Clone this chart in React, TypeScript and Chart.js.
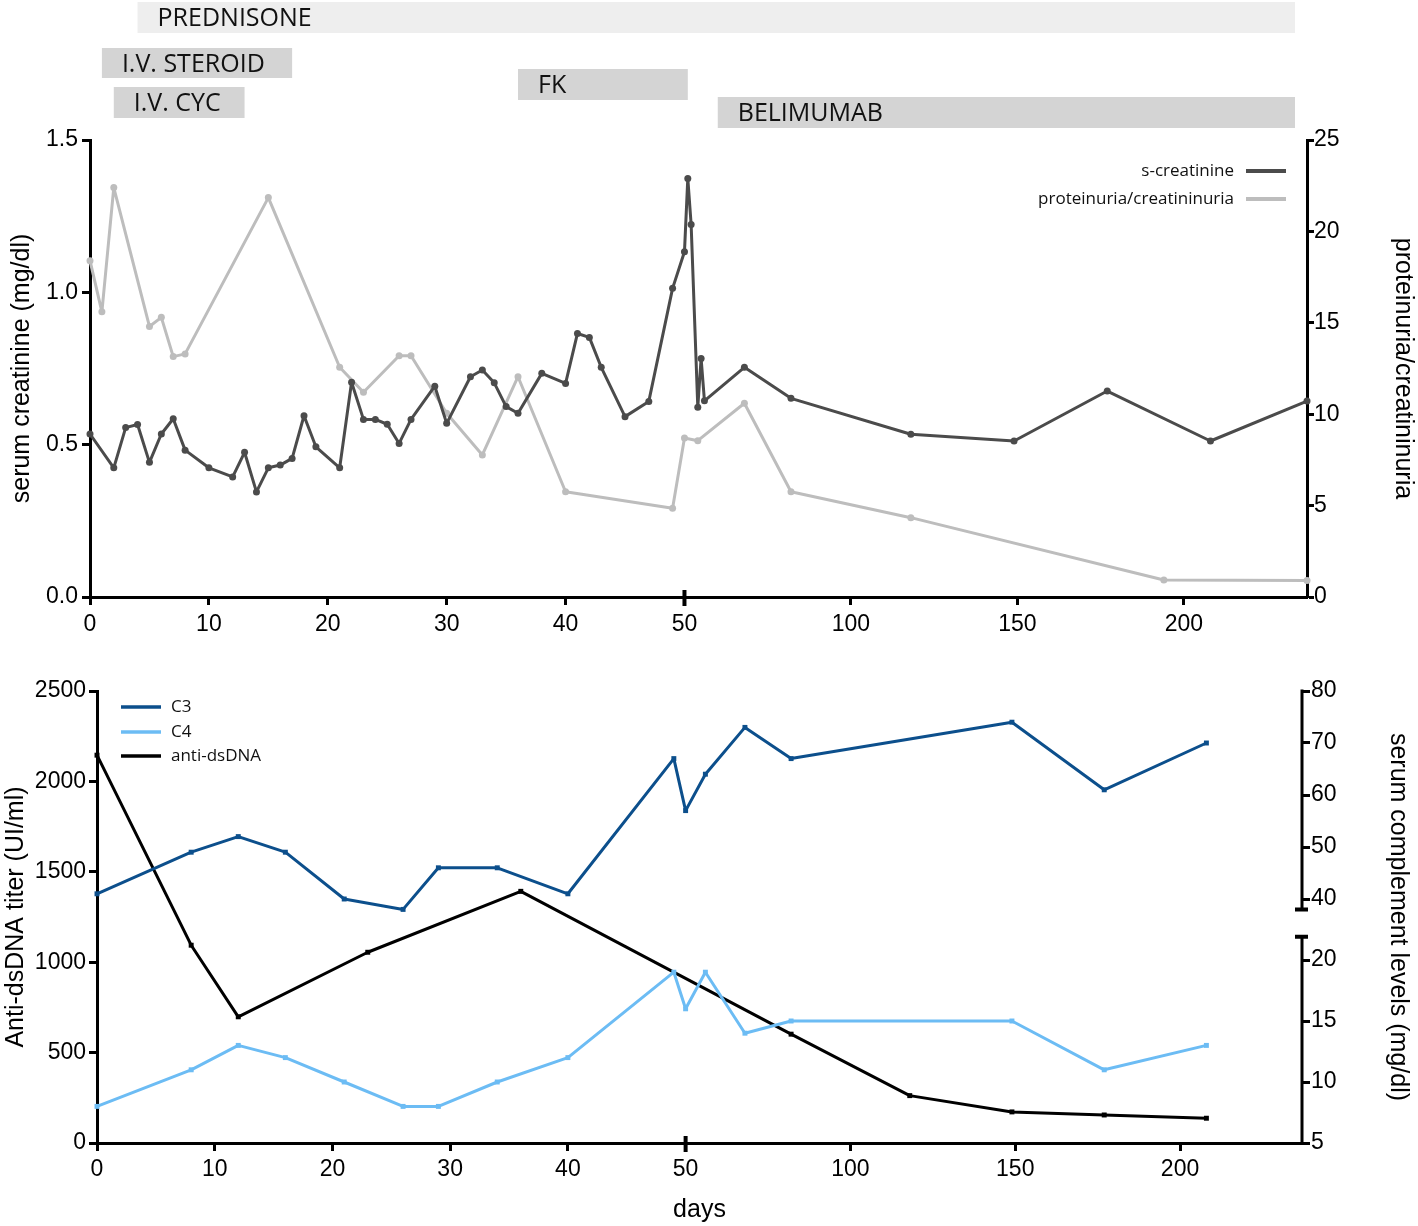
import React, { useEffect, useRef } from "react";
import { Chart, registerables } from "chart.js";
Chart.register(...registerables);

// ---------------- data ----------------
const xTickDays = [0, 10, 20, 30, 40, 50, 100, 150, 200];
const xTickLabels = ["0", "10", "20", "30", "40", "50", "100", "150", "200"];

const creatinineDays = [0, 2, 3, 4, 5, 6, 7, 8, 10, 12, 13, 14, 15, 16, 17, 18, 19, 21, 22, 23, 24, 25, 26, 27, 29, 30, 32, 33, 34, 35, 36, 38, 40, 41, 42, 43, 45, 47, 49, 50, 51, 52, 54, 55, 56, 68, 82, 118, 149, 177, 208, 237];
const creatinineValues = [0.535, 0.424, 0.556, 0.566, 0.442, 0.535, 0.585, 0.482, 0.424, 0.394, 0.475, 0.345, 0.424, 0.433, 0.455, 0.595, 0.493, 0.424, 0.705, 0.583, 0.583, 0.567, 0.504, 0.583, 0.692, 0.57, 0.723, 0.745, 0.703, 0.625, 0.603, 0.734, 0.701, 0.865, 0.852, 0.754, 0.592, 0.642, 1.013, 1.133, 1.374, 1.223, 0.623, 0.783, 0.644, 0.754, 0.652, 0.534, 0.512, 0.676, 0.512, 0.643];

const proteinuriaDays = [0, 1, 2, 5, 6, 7, 8, 15, 21, 23, 26, 27, 30, 33, 36, 40, 49, 50, 54, 68, 82, 118, 194, 237];
const proteinuriaValues = [18.4, 15.6, 22.4, 14.8, 15.3, 13.15, 13.3, 21.85, 12.57, 11.2, 13.2, 13.2, 10.05, 7.77, 12.05, 5.76, 4.85, 8.7, 8.55, 10.6, 5.76, 4.34, 0.93, 0.9];

const creatinineTicks = [0, 0.5, 1.0, 1.5];
const proteinuriaTicks = [0, 5, 10, 15, 20, 25];

const treatmentNames = ["PREDNISONE", "I.V. STEROID", "I.V. CYC", "FK", "BELIMUMAB"];
const treatmentStart = [4, 1, 2, 36, 60];
const treatmentEnd = [233.4, 17, 13, 51, 233.4];

const dnaDays = [0, 8, 12, 23, 36, 82, 118, 149, 177, 208];
const dnaValues = [2145, 1094, 698, 1055, 1392, 602, 262, 172, 155, 137];

const complementDays = [0, 8, 12, 16, 21, 26, 29, 34, 40, 49, 50, 56, 68, 82, 149, 177, 208];
const c3Values = [41, 49, 52, 49, 40, 38, 46, 46, 41, 67, 57, 64, 73, 67, 74, 61, 70];
const c4Values = [8, 11, 13, 12, 10, 8, 8, 10, 12, 19, 16, 19, 14, 15, 15, 11, 13];

const dnaTicks = [0, 500, 1000, 1500, 2000, 2500];
const complementTicks = [5, 10, 15, 20, 40, 50, 60, 70, 80];

// ---------------- layout / style ----------------
const W = 1418;
const TOP_H = 650;
const BOT_H = 576;
const SPLIT = 0.28; // compression of days beyond 50
const X_MAX_DAY = 237;
const tx = (d: number) => (d <= 50 ? d : 50 + (d - 50) * SPLIT);
// broken right axis of lower chart (virtual units = pixels from bottom)
const tc = (v: number) => (v < 30 ? (v - 5) * 12.2 : 244 + (v - 40) * 5.2);
const UPPER_END = 38;
const LOWER_END = 21.9;

const DARK = "#4b4b4b";
const LIGHT = "#bdbdbd";
const C3_COL = "#0c4f8c";
const C4_COL = "#6cbcf4";
const DNA_COL = "#000000";

const TICK_FONT = { family: '"Liberation Sans", Arial, sans-serif', size: 23 };
const TITLE_FONT = { family: '"Liberation Sans", Arial, sans-serif', size: 25 };
const LABEL_FAMILY = '"Open Sans", "Liberation Sans", sans-serif';

const TREAT_ROWS: [number, number][] = [
  [2, 31],
  [48, 30],
  [87, 31],
  [69, 31],
  [97, 31],
];
const TREAT_FILL = ["#eeeeee", "#d4d4d4", "#d4d4d4", "#d4d4d4", "#d4d4d4"];

const axisGrid = {
  drawOnChartArea: false,
  drawTicks: true,
  tickLength: 8,
  tickWidth: 3,
  tickColor: "#000",
};
const axisBorder = { display: true, width: 3, color: "#000" };

function xScale(height: number, pad: number, title?: string) {
  return {
    type: "linear",
    min: 0,
    max: tx(X_MAX_DAY),
    afterBuildTicks: (s: any) => {
      s.ticks = xTickDays.map((d) => ({ value: tx(d) }));
    },
    afterFit: (s: any) => {
      s.height = height;
    },
    ticks: {
      callback: (_v: any, i: number) => xTickLabels[i],
      font: TICK_FONT,
      color: "#000",
      padding: pad,
      maxRotation: 0,
      autoSkip: false,
    },
    grid: axisGrid,
    border: axisBorder,
    title: title
      ? { display: true, text: title, font: TITLE_FONT, color: "#000", padding: { top: 0, bottom: 1 } }
      : { display: false },
  };
}

function breakMark(chart: any) {
  const { ctx, scales, chartArea } = chart;
  const x = scales.x.getPixelForValue(tx(50));
  ctx.save();
  ctx.strokeStyle = "#000";
  ctx.lineWidth = 4;
  ctx.beginPath();
  ctx.moveTo(x, chartArea.bottom - 7);
  ctx.lineTo(x, chartArea.bottom + 9);
  ctx.stroke();
  ctx.restore();
}

const topPlugin = {
  id: "topDecor",
  afterDraw(chart: any) {
    const { ctx, scales } = chart;
    const x = scales.x;
    ctx.save();
    treatmentNames.forEach((name, i) => {
      const x0 = x.getPixelForValue(tx(treatmentStart[i]));
      const x1 = x.getPixelForValue(tx(treatmentEnd[i]));
      const [y0, h] = TREAT_ROWS[i];
      ctx.fillStyle = TREAT_FILL[i];
      ctx.fillRect(x0, y0, x1 - x0, h);
      ctx.fillStyle = "#111";
      ctx.font = `25px ${LABEL_FAMILY}`;
      ctx.textAlign = "left";
      ctx.textBaseline = "alphabetic";
      ctx.fillText(name, x0 + 20, y0 + 23.5);
    });
    // legend
    const items = chart.data.datasets;
    const ys = [171, 199];
    items.forEach((ds: any, i: number) => {
      ctx.font = `17px ${LABEL_FAMILY}`;
      ctx.fillStyle = "#111";
      ctx.textAlign = "right";
      ctx.textBaseline = "middle";
      ctx.fillText(ds.label, 1234, ys[i]);
      ctx.strokeStyle = ds.borderColor;
      ctx.lineWidth = 4;
      ctx.beginPath();
      ctx.moveTo(1246, ys[i]);
      ctx.lineTo(1286, ys[i]);
      ctx.stroke();
    });
    ctx.restore();
    breakMark(chart);
  },
};

const bottomPlugin = {
  id: "bottomDecor",
  afterDraw(chart: any) {
    const { ctx, scales } = chart;
    const yR = scales.yR;
    const ax = yR.left;
    ctx.save();
    ctx.strokeStyle = "#000";
    ctx.lineWidth = 3;
    const u0 = yR.getPixelForValue(tc(80)) - 1.5;
    const u1 = yR.getPixelForValue(tc(UPPER_END));
    const l0 = yR.getPixelForValue(tc(LOWER_END));
    const l1 = yR.getPixelForValue(tc(5)) + 1.5;
    ctx.beginPath();
    ctx.moveTo(ax, u0);
    ctx.lineTo(ax, u1);
    ctx.moveTo(ax, l0);
    ctx.lineTo(ax, l1);
    ctx.stroke();
    ctx.lineWidth = 4;
    ctx.beginPath();
    ctx.moveTo(ax - 7, u1);
    ctx.lineTo(ax + 6, u1);
    ctx.moveTo(ax - 7, l0);
    ctx.lineTo(ax + 6, l0);
    ctx.stroke();
    // legend
    const ys = [57, 82, 106];
    chart.data.datasets.forEach((ds: any, i: number) => {
      ctx.strokeStyle = ds.borderColor;
      ctx.lineWidth = 3.5;
      ctx.beginPath();
      ctx.moveTo(121, ys[i]);
      ctx.lineTo(161, ys[i]);
      ctx.stroke();
      ctx.fillStyle = "#111";
      ctx.font = `17px ${LABEL_FAMILY}`;
      ctx.textAlign = "left";
      ctx.textBaseline = "middle";
      ctx.fillText(ds.label, 171, ys[i]);
    });
    ctx.restore();
    breakMark(chart);
  },
};

const lineCommon = {
  borderWidth: 3,
  borderJoinStyle: "round",
  pointBorderWidth: 0,
  tension: 0,
  clip: false,
};

function topConfig(): any {
  return {
    type: "line",
    data: {
      datasets: [
        {
          ...lineCommon,
          label: "s-creatinine",
          data: creatinineDays.map((d, i) => ({ x: tx(d), y: creatinineValues[i] })),
          yAxisID: "yL",
          borderColor: DARK,
          backgroundColor: DARK,
          pointRadius: 3.5,
        },
        {
          ...lineCommon,
          label: "proteinuria/creatininuria",
          data: proteinuriaDays.map((d, i) => ({ x: tx(d), y: proteinuriaValues[i] })),
          yAxisID: "yR",
          borderColor: LIGHT,
          backgroundColor: LIGHT,
          pointRadius: 3.5,
        },
      ],
    },
    options: {
      responsive: false,
      animation: false,
      devicePixelRatio: 1,
      layout: { padding: { top: 140, left: 0, right: 0, bottom: 0 } },
      plugins: { legend: { display: false }, tooltip: { enabled: false } },
      scales: {
        x: xScale(TOP_H - 597, 6),
        yL: {
          type: "linear",
          position: "left",
          min: 0,
          max: 1.5,
          afterBuildTicks: (s: any) => {
            s.ticks = creatinineTicks.map((v) => ({ value: v }));
          },
          afterFit: (s: any) => {
            s.width = 90;
          },
          ticks: { callback: (v: any) => Number(v).toFixed(1), font: TICK_FONT, color: "#000", padding: 4 },
          grid: axisGrid,
          border: axisBorder,
          title: { display: true, text: "serum creatinine (mg/dl)", font: TITLE_FONT, color: "#000", padding: { top: 7, bottom: 0 } },
        },
        yR: {
          type: "linear",
          position: "right",
          min: 0,
          max: 25,
          afterBuildTicks: (s: any) => {
            s.ticks = proteinuriaTicks.map((v) => ({ value: v }));
          },
          afterFit: (s: any) => {
            s.width = W - 1307;
          },
          ticks: { callback: (v: any) => String(v), font: TICK_FONT, color: "#000", padding: 0 },
          grid: { ...axisGrid, tickLength: 7 },
          border: axisBorder,
          title: { display: true, text: "proteinuria/creatininuria", font: TITLE_FONT, color: "#000", padding: { top: 0, bottom: 0 } },
        },
      },
    },
    plugins: [topPlugin],
  };
}

function bottomConfig(): any {
  return {
    type: "line",
    data: {
      datasets: [
        {
          ...lineCommon,
          label: "C3",
          data: complementDays.map((d, i) => ({ x: tx(d), y: tc(c3Values[i]) })),
          yAxisID: "yR",
          borderColor: C3_COL,
          backgroundColor: C3_COL,
          pointStyle: "rect",
          pointRadius: 3.5,
        },
        {
          ...lineCommon,
          label: "C4",
          data: complementDays.map((d, i) => ({ x: tx(d), y: tc(c4Values[i]) })),
          yAxisID: "yR",
          borderColor: C4_COL,
          backgroundColor: C4_COL,
          pointStyle: "rect",
          pointRadius: 3.5,
        },
        {
          ...lineCommon,
          label: "anti-dsDNA",
          data: dnaDays.map((d, i) => ({ x: tx(d), y: dnaValues[i] })),
          yAxisID: "yL",
          borderColor: DNA_COL,
          backgroundColor: DNA_COL,
          pointStyle: "rect",
          pointRadius: 3.5,
        },
      ],
    },
    options: {
      responsive: false,
      animation: false,
      devicePixelRatio: 1,
      layout: { padding: { top: 691 - TOP_H, left: 0, right: 0, bottom: 0 } },
      plugins: { legend: { display: false }, tooltip: { enabled: false } },
      scales: {
        x: xScale(BOT_H - (1143 - TOP_H), 5, "days"),
        yL: {
          type: "linear",
          position: "left",
          min: 0,
          max: 2500,
          afterBuildTicks: (s: any) => {
            s.ticks = dnaTicks.map((v) => ({ value: v }));
          },
          afterFit: (s: any) => {
            s.width = 97;
          },
          ticks: { callback: (v: any) => String(v), font: TICK_FONT, color: "#000", padding: 3 },
          grid: axisGrid,
          border: axisBorder,
          title: { display: true, text: "Anti-dsDNA titer (UI/ml)", font: TITLE_FONT, color: "#000", padding: { top: 1, bottom: 0 } },
        },
        yR: {
          type: "linear",
          position: "right",
          min: 0,
          max: 452,
          afterBuildTicks: (s: any) => {
            s.ticks = complementTicks.map((v) => ({ value: tc(v) }));
          },
          afterFit: (s: any) => {
            s.width = W - 1302;
          },
          ticks: { callback: (_v: any, i: number) => String(complementTicks[i]), font: TICK_FONT, color: "#000", padding: 1 },
          grid: { ...axisGrid, tickLength: 8 },
          border: { display: false },
          title: { display: true, text: "serum complement levels (mg/dl)", font: TITLE_FONT, color: "#000", padding: { top: 5, bottom: 0 } },
        },
      },
    },
    plugins: [bottomPlugin],
  };
}

export default function App() {
  const topRef = useRef<HTMLCanvasElement>(null);
  const botRef = useRef<HTMLCanvasElement>(null);
  useEffect(() => {
    const c1 = new Chart(topRef.current as HTMLCanvasElement, topConfig());
    const c2 = new Chart(botRef.current as HTMLCanvasElement, bottomConfig());
    return () => {
      c1.destroy();
      c2.destroy();
    };
  }, []);
  return (
    <div style={{ position: "absolute", left: 0, top: 0, width: W, height: TOP_H + BOT_H, background: "#fff" }}>
      <canvas
        ref={topRef}
        width={W}
        height={TOP_H}
        style={{ position: "absolute", left: 0, top: 0, width: W, height: TOP_H }}
      />
      <canvas
        ref={botRef}
        width={W}
        height={BOT_H}
        style={{ position: "absolute", left: 0, top: TOP_H, width: W, height: BOT_H }}
      />
    </div>
  );
}
